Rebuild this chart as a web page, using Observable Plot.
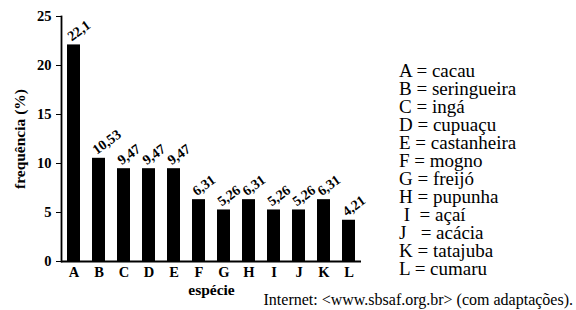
<!DOCTYPE html>
<html><head><meta charset="utf-8">
<script src="https://cdn.jsdelivr.net/npm/d3@7"></script>
<script src="https://cdn.jsdelivr.net/npm/@observablehq/plot@0.6"></script>
</head>
<body style="margin:0;background:#fff;">
<div id="wrap" style="position:relative;width:576px;height:310px;overflow:hidden;font-family:'Liberation Serif';">
<div id="chart"></div>
<div id="legend" style="position:absolute;left:399px;top:62px;font-family:'Liberation Serif';font-size:19px;line-height:18px;white-space:pre;color:#000;"></div>
<div id="caption" style="position:absolute;right:3px;top:291px;font-family:'Liberation Serif';font-size:16px;color:#000;white-space:nowrap;"></div>
</div>
<script>
const especies = ["A","B","C","D","E","F","G","H","I","J","K","L"];
const frequencias = [22.1,10.53,9.47,9.47,9.47,6.31,5.26,6.31,5.26,5.26,6.31,4.21];
const rotulos = ["22,1","10,53","9,47","9,47","9,47","6,31","5,26","6,31","5,26","5,26","6,31","4,21"];
const nomes = ["A = cacau","B = seringueira","C = ingá","D = cupuaçu","E = castanheira","F = mogno","G = freijó","H = pupunha"," I  = açaí","J   = acácia","K = tatajuba","L = cumaru"];
const yTicks = [0,5,10,15,20,25];
const fonte = "Internet: <www.sbsaf.org.br> (com adaptações).";

const data = especies.map((e,i)=>({especie:e, freq:frequencias[i], rotulo:rotulos[i]}));

const chart = Plot.plot({
  width:576, height:310,
  marginLeft:61, marginRight:215, marginTop:16, marginBottom:49,
  style:{fontFamily:"'Liberation Serif'", color:"#000", background:"#fff"},
  x:{domain:especies, paddingInner:0.5, paddingOuter:0.19},
  y:{domain:[0,25]},
  marks:[
    Plot.barY(data,{x:"especie", y:"freq", fill:"#000"}),
    Plot.text(data,{x:"especie", y:"freq", text:"rotulo", rotate:-36, textAnchor:"start", dx:-5, dy:-7, fontSize:14, fontWeight:"bold", fill:"#000"}),
    Plot.axisY({ticks:yTicks, tickSize:5, tickPadding:5, fontSize:14.5, fontWeight:"bold", label:"frequência (%)", labelAnchor:"center", labelOffset:48, labelArrow:"none"}),
    Plot.axisX({tickSize:0, tickPadding:5, fontSize:14.5, fontWeight:"bold", label:"espécie", labelAnchor:"center", labelOffset:33, labelArrow:"none"}),
    Plot.ruleY([0],{stroke:"#000", strokeWidth:1.8}),
    Plot.frame({anchor:"left", stroke:"#000", strokeWidth:1.8})
  ]
});
document.getElementById("chart").appendChild(chart);
chart.querySelectorAll("[aria-label='y-axis label'] text, [aria-label='x-axis label'] text").forEach(t=>{t.setAttribute("font-weight","bold");t.style.fontSize="15.5px";});
document.getElementById("legend").textContent = nomes.join("\n");
document.getElementById("caption").textContent = fonte;
</script></body></html>
